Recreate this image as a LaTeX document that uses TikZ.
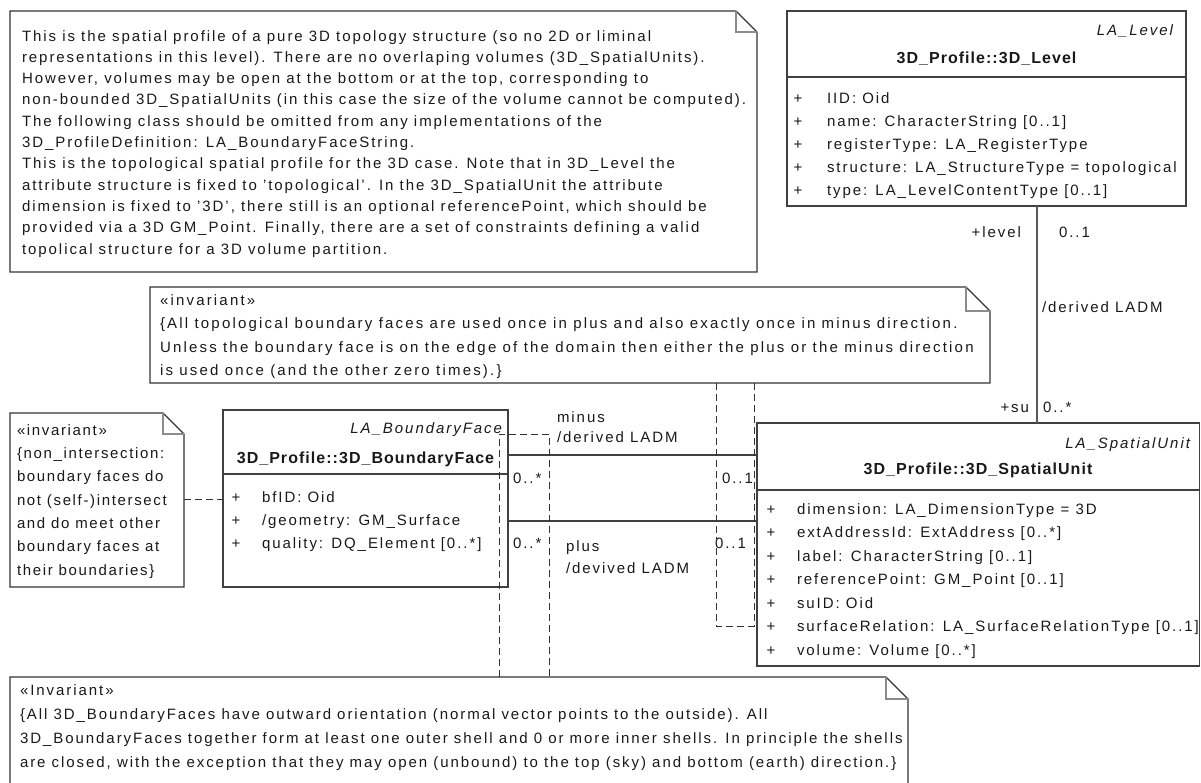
\documentclass[tikz,border=0pt]{standalone}
\usepackage{fontspec}
\setmainfont{Liberation Sans}[LetterSpace=13]
\usetikzlibrary{positioning}

\begin{document}
\begin{tikzpicture}[
    x=1pt, y=-1pt,
    classbox/.style={draw=black!75, line width=1.3pt, inner sep=0pt, outer sep=0pt, anchor=north west},
    notebox/.style={inner sep=0pt, outer sep=0pt, anchor=north west},
    noteborder/.style={draw=black!80, line width=1.2pt},
    notefold/.style={draw=black!45, line width=1.2pt},
    txt/.style={inner sep=0pt, outer sep=0pt, text=black!90, align=left, font=\fontsize{15}{21.3}\selectfont},
    attr/.style={txt, font=\fontsize{15}{23}\selectfont},
    stereo/.style={txt, font=\fontsize{15}{18}\selectfont\itshape},
    cname/.style={txt, font=\fontsize{16}{18}\selectfont\bfseries\addfontfeature{LetterSpace=6.5}},
    assoc/.style={draw=black!75, line width=1.1pt},
    noteline/.style={draw=black!80, line width=1pt, dash pattern=on 7pt off 4pt}
    ]

    \useasboundingbox (0,0) rectangle (1201,782);

    % notes
    \node[notebox, minimum width=747pt, minimum height=261pt] (topnote) at (10,11) {};
    \node[notebox, minimum width=840pt, minimum height=96pt] (midnote) at (150,287) {};
    \node[notebox, minimum width=174pt, minimum height=174pt] (leftnote) at (10,413) {};
    \node[notebox, minimum width=898pt, minimum height=130pt] (botnote) at (10,677) {};

    \foreach \n/\f in {topnote/21, midnote/24, leftnote/21, botnote/22} {
        \draw[noteborder] (\n.north west) -- ([xshift=-\f pt]\n.north east) -- ([yshift=-\f pt]\n.north east)
            -- (\n.south east) -- (\n.south west) -- cycle;
        \draw[notefold] ([xshift=-\f pt]\n.north east) |- ([yshift=-\f pt]\n.north east);
    }

    % note texts (base = last line)
    \node[txt, anchor=base west] (toptext) at (22,254) {This is the spatial profile of a pure 3D topology structure (so no 2D or liminal\\
        representations in this level). There are no overlaping volumes (3D\_SpatialUnits).\\
        However, volumes may be open at the bottom or at the top, corresponding to\\
        non-bounded 3D\_SpatialUnits (in this case the size of the volume cannot be computed).\\
        The following class should be omitted from any implementations of the\\
        3D\_ProfileDefinition: LA\_BoundaryFaceString.\\
        This is the topological spatial profile for the 3D case. Note that in 3D\_Level the\\
        attribute structure is fixed to 'topological'. In the 3D\_SpatialUnit the attribute\\
        dimension is fixed to '3D', there still is an optional referencePoint, which should be\\
        provided via a 3D GM\_Point. Finally, there are a set of constraints defining a valid\\
        topolical structure for a 3D volume partition.};

    \node[txt, anchor=base west, font=\fontsize{15}{23.5}\selectfont\addfontfeature{LetterSpace=14.6}] (midtext) at (160,375.5) {«invariant»\\
        \{All topological boundary faces are used once in plus and also exactly once in minus direction.\\
        Unless the boundary face is on the edge of the domain then either the plus or the minus direction\\
        is used once (and the other zero times).\}};

    \node[txt, anchor=base west, font=\fontsize{15}{23.3}\selectfont\addfontfeature{LetterSpace=11}] (lefttext) at (17,575) {«invariant»\\
        \{non\_intersection:\\
        boundary faces do\\
        not (self-)intersect\\
        and do meet other\\
        boundary faces at\\
        their boundaries\}};

    \node[txt, anchor=base west, font=\fontsize{15}{23.7}\selectfont] (bottext) at (20,767) {«Invariant»\\
        \{All 3D\_BoundaryFaces have outward orientation (normal vector points to the outside). All\\
        3D\_BoundaryFaces together form at least one outer shell and 0 or more inner shells. In principle the shells\\
        are closed, with the exception that they may open (unbound) to the top (sky) and bottom (earth) direction.\}};

    % classes
    \node[classbox, minimum width=399pt, minimum height=195pt] (level) at (787,11) {};
    \draw[classbox] ([yshift=-66pt]level.north west) -- ([yshift=-66pt]level.north east);
    \node[stereo, anchor=base east] (levelstereo) at (1173,35) {LA\_Level};
    \node[cname, anchor=base] (levelname) at (986.5,63) {3D\_Profile::3D\_Level};
    \node[attr, anchor=base west] (levelplus) at (793.5,195) {+\\+\\+\\+\\+};
    \node[attr, anchor=base west] (levelattr) at (827,195) {IID: Oid\\
        name: CharacterString [0..1]\\
        registerType: LA\_RegisterType\\
        structure: LA\_StructureType = topological\\
        type: LA\_LevelContentType [0..1]};

    \node[classbox, minimum width=285pt, minimum height=177pt] (bf) at (223,410) {};
    \draw[classbox] ([yshift=-64pt]bf.north west) -- ([yshift=-64pt]bf.north east);
    \node[stereo, anchor=base east] (bfstereo) at (502,433) {LA\_BoundaryFace};
    \node[cname, anchor=base] (bfname) at (365.5,463) {3D\_Profile::3D\_BoundaryFace};
    \node[attr, anchor=base west] (bfplus) at (231.5,548) {+\\+\\+};
    \node[attr, anchor=base west] (bfattr) at (262,548) {bfID: Oid\\
        /geometry: GM\_Surface\\
        quality: DQ\_Element [0..*]};

    \node[classbox, minimum width=442.5pt, minimum height=243pt] (su) at (757,423) {};
    \draw[classbox] ([yshift=-67pt]su.north west) -- ([yshift=-67pt]su.north east);
    \node[stereo, anchor=base east] (sustereo) at (1190,448) {LA\_SpatialUnit};
    \node[cname, anchor=base] (suname) at (978,474) {3D\_Profile::3D\_SpatialUnit};
    \node[attr, anchor=base west, font=\fontsize{15}{23.5}\selectfont] (suplus) at (766.5,655) {+\\+\\+\\+\\+\\+\\+};
    \node[attr, anchor=base west, font=\fontsize{15}{23.5}\selectfont] (suattr) at (797,655) {dimension: LA\_DimensionType = 3D\\
        extAddressId: ExtAddress [0..*]\\
        label: CharacterString [0..1]\\
        referencePoint: GM\_Point [0..1]\\
        suID: Oid\\
        surfaceRelation: LA\_SurfaceRelationType [0..1]\\
        volume: Volume [0..*]};

    % associations
    \draw[assoc, draw=black!65] ([xshift=250pt]level.south west) -- ([xshift=280pt]su.north west);
    \node[txt, anchor=base east] (lvlrole) at (1021,237) {+level};
    \node[txt, anchor=base west] (lvlmult) at (1059,237) {0..1};
    \node[txt, anchor=base west] (lvlderived) at (1042,312) {/derived LADM};
    \node[txt, anchor=base east] (surole) at (1029,412) {+su};
    \node[txt, anchor=base west] (sumult) at (1043,412) {0..*};

    \draw[assoc] ([yshift=-45pt]bf.north east) -- ([yshift=-32pt]su.north west);
    \node[txt, anchor=base west, font=\fontsize{15}{20}\selectfont] (minusrole) at (557,442) {minus\\/derived LADM};
    \node[txt, anchor=base west] (minusbf) at (513,483) {0..*};
    \node[txt, anchor=base west] (minussu) at (722,483) {0..1};

    \draw[assoc] ([yshift=-111pt]bf.north east) -- ([yshift=-98pt]su.north west);
    \node[txt, anchor=base west, font=\fontsize{15}{22}\selectfont] (plusrole) at (566,573) {plus\\/devived LADM};
    \node[txt, anchor=base west] (plusbf) at (513,548) {0..*};
    \node[txt, anchor=base west] (plussu) at (715,548) {0..1};

    % note links
    \draw[noteline] ([yshift=-86pt]leftnote.north east) -- ([yshift=-89pt]bf.north west);
    \draw[noteline] ([xshift=489pt]botnote.north west) |- ([xshift=41pt,yshift=-24pt]bf.north east)
        -- ([xshift=539pt]botnote.north west);
    \draw[noteline] ([xshift=566pt]midnote.south west) |- ([xshift=-3pt,yshift=-203pt]su.north west)
        -- ([xshift=604pt]midnote.south west);

\end{tikzpicture}
\end{document}
